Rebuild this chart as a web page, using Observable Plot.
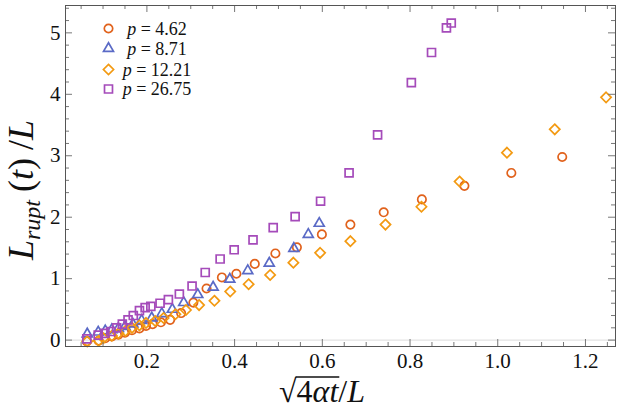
<!DOCTYPE html>
<html><head><meta charset="utf-8">
<script src="https://cdn.jsdelivr.net/npm/d3@7"></script>
<script src="https://cdn.jsdelivr.net/npm/@observablehq/plot@0.6"></script>
<style>body{margin:0;background:#fff}#wrap{width:623px;height:417px}
svg text{font-family:"Liberation Serif","Times New Roman",serif !important;}</style>
</head><body><div id="wrap"></div>
<script>
// ---- data ----
const pValues = ["4.62", "8.71", "12.21", "26.75"];
const seriesSymbols = ["circle", "triangle", "diamond2", "square"];
const seriesColors = ["#E1621C", "#5A6AC6", "#F39A12", "#A54BBA"];

const circX = [0.063,0.090,0.105,0.120,0.135,0.150,0.166,0.183,0.198,0.213,0.232,0.253,0.278,0.306,0.336,0.371,0.404,0.446,0.493,0.542,0.599,0.664,0.740,0.827,0.924,1.031,1.147];
const circY = [-0.02,-0.01,0.03,0.06,0.09,0.12,0.16,0.19,0.23,0.26,0.29,0.33,0.44,0.61,0.84,1.02,1.08,1.24,1.41,1.51,1.72,1.88,2.08,2.29,2.51,2.72,2.98];

const triX = [0.064,0.089,0.105,0.120,0.135,0.150,0.168,0.188,0.211,0.234,0.258,0.284,0.316,0.351,0.389,0.430,0.479,0.535,0.568,0.593];
const triY = [0.10,0.13,0.15,0.17,0.19,0.22,0.26,0.32,0.36,0.43,0.50,0.61,0.74,0.86,0.99,1.13,1.25,1.49,1.72,1.90];

const diaX = [0.064,0.090,0.101,0.120,0.135,0.151,0.166,0.183,0.198,0.219,0.238,0.265,0.289,0.319,0.354,0.390,0.432,0.481,0.534,0.595,0.664,0.744,0.826,0.913,1.021,1.130,1.247];
const diaY = [-0.02,-0.01,0.03,0.07,0.11,0.15,0.20,0.24,0.28,0.31,0.36,0.42,0.49,0.57,0.64,0.79,0.91,1.06,1.26,1.42,1.61,1.88,2.17,2.58,3.05,3.43,3.95];

const sqX = [0.063,0.089,0.104,0.118,0.131,0.144,0.157,0.169,0.183,0.196,0.209,0.230,0.249,0.274,0.303,0.333,0.367,0.399,0.442,0.488,0.538,0.596,0.661,0.726,0.803,0.849,0.883,0.894];
const sqY = [0.02,0.08,0.11,0.14,0.20,0.26,0.33,0.40,0.48,0.53,0.55,0.60,0.66,0.75,0.88,1.10,1.32,1.47,1.63,1.83,2.01,2.26,2.72,3.34,4.19,4.68,5.08,5.16];

const xMajor = [0.2, 0.4, 0.6, 0.8, 1.0, 1.2];
const xMinor = [0.05,0.1,0.15,0.25,0.3,0.35,0.45,0.5,0.55,0.65,0.7,0.75,0.85,0.9,0.95,1.05,1.1,1.15,1.25];
const yMajor = [0, 1, 2, 3, 4, 5];
const yMinor = [0.2,0.4,0.6,0.8,1.2,1.4,1.6,1.8,2.2,2.4,2.6,2.8,3.2,3.4,3.6,3.8,4.2,4.4,4.6,4.8,5.2,5.4];

// ---- build table ----
const allX = [circX, triX, diaX, sqX];
const allY = [circY, triY, diaY, sqY];
const table = [];
allX.forEach((xs, s) => xs.forEach((x, i) => table.push({x, y: allY[s][i], s})));

const W = 623, H = 417, mL = 65, mR = 8, mT = 5, mB = 71;
const innerW = W - mL - mR, innerH = H - mT - mB;
const serif = "'Liberation Serif', 'Times New Roman', serif";
const tickCol = "#777";
const radii = [4.2, 3.7, 4.6, 4.5];

const dotMarks = [0,1,2,3].map(s => Plot.dot(table.filter(d => d.s === s), {
  x: "x", y: "y", symbol: () => seriesSymbols[s], r: radii[s],
  stroke: seriesColors[s], fill: "none", strokeWidth: 1.7
}));

const plot = Plot.plot({
  width: W, height: H,
  marginLeft: mL, marginRight: mR, marginTop: mT, marginBottom: mB,
  style: {fontFamily: serif, fontSize: "20px", background: "#fff", color: "#111"},
  x: {domain: [0.0144, 1.2685]},
  y: {domain: [-0.104, 5.445]},
  marks: [
    Plot.ruleY([0], {stroke: "#dcdcdc", strokeWidth: 1}),
    ...dotMarks,
    Plot.tickX(xMajor, {x: d => d, insetTop: innerH - 7, stroke: tickCol}),
    Plot.tickX(xMajor, {x: d => d, insetBottom: innerH - 7, stroke: tickCol}),
    Plot.tickX(xMinor, {x: d => d, insetTop: innerH - 4, stroke: tickCol}),
    Plot.tickX(xMinor, {x: d => d, insetBottom: innerH - 4, stroke: tickCol}),
    Plot.tickY(yMajor, {y: d => d, insetRight: innerW - 7, stroke: tickCol}),
    Plot.tickY(yMajor, {y: d => d, insetLeft: innerW - 7, stroke: tickCol}),
    Plot.tickY(yMinor, {y: d => d, insetRight: innerW - 4, stroke: tickCol}),
    Plot.tickY(yMinor, {y: d => d, insetLeft: innerW - 4, stroke: tickCol}),
    Plot.frame({stroke: "#555", strokeWidth: 1}),
    Plot.axisX(xMajor, {tickSize: 0, tickPadding: 7, tickFormat: d => d.toFixed(1), fontSize: 21, label: null}),
    Plot.axisY(yMajor, {tickSize: 0, tickPadding: 5, tickFormat: d => String(d), fontSize: 21, label: null})
  ]
});
document.getElementById("wrap").appendChild(plot);

const svg = d3.select(plot);

// ---- legend ----
const legendRowY = [28.5, 48.5, 69.5, 89];
const symMap = {circle: d3.symbolCircle, triangle: d3.symbolTriangle, diamond2: d3.symbolDiamond2, square: d3.symbolSquare};
const lg = svg.append("g");
pValues.forEach((p, i) => {
  const r = radii[i];
  lg.append("path")
    .attr("d", d3.symbol(symMap[seriesSymbols[i]], Math.PI * r * r)())
    .attr("transform", `translate(108.5,${legendRowY[i]})`)
    .attr("fill", "none").attr("stroke", seriesColors[i]).attr("stroke-width", 1.7);
  const t = lg.append("text").attr("x", 157).attr("y", legendRowY[i] + 6)
    .attr("text-anchor", "middle").attr("font-family", serif).attr("font-size", 18).attr("fill", "#111");
  t.append("tspan").attr("font-style", "italic").text("p");
  t.append("tspan").text(" = " + p);
});

// ---- axis labels ----
const yl = svg.append("text").attr("transform", "translate(33,190) rotate(-90)")
  .attr("text-anchor", "middle").attr("font-family", serif).attr("font-size", 36).attr("fill", "#111");
yl.append("tspan").attr("font-style", "italic").text("L");
yl.append("tspan").attr("font-style", "italic").attr("font-size", 24).attr("dy", 7).text("rupt");
yl.append("tspan").attr("dy", -7).attr("dx", 8).text("(");
yl.append("tspan").attr("font-style", "italic").text("t");
yl.append("tspan").text(")");
yl.append("tspan").attr("dx", 8).text("/");
yl.append("tspan").attr("font-style", "italic").text("L");

const xl = svg.append("text").attr("x", 322).attr("y", 402)
  .attr("text-anchor", "middle").attr("font-family", serif).attr("font-size", 32).attr("fill", "#111");
xl.append("tspan").text("\u221A");
xl.append("tspan").text("4");
xl.append("tspan").attr("font-style", "italic").text("\u03B1t");
xl.append("tspan").text("/");
xl.append("tspan").attr("font-style", "italic").text("L");
const node = xl.node();
const x0 = node.getEndPositionOfChar(0).x;
const x1 = node.getEndPositionOfChar(3).x;
svg.append("line").attr("x1", x0 - 1).attr("x2", x1 + 1).attr("y1", 377).attr("y2", 377)
  .attr("stroke", "#111").attr("stroke-width", 1.5);
</script>
</body></html>
